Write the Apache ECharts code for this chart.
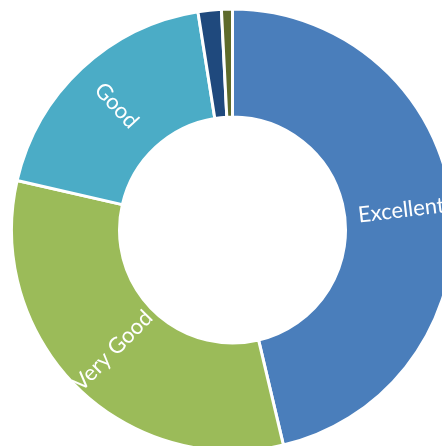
<!DOCTYPE html>
<html>
<head>
<meta charset="utf-8">
<script src="https://cdn.jsdelivr.net/npm/echarts@6/dist/echarts.min.js"></script>
<style>html,body{margin:0;padding:0;background:#fff;}#c{width:442px;height:446px;}</style>
</head>
<body>
<div id="c"></div>
<script>
const categories = ['Excellent', 'Very Good', 'Good', 'Fair', 'Poor'];
const values = [46.3, 32.3, 18.9, 1.7, 0.8];
const colors = ['#4A7EBB', '#9BBB59', '#4BACC6', '#1F497D', '#5E6B2B'];
const showLabel = [true, true, true, false, false];

const chart = echarts.init(document.getElementById('c'), null, {renderer: 'canvas'});
chart.setOption({
  animation: false,
  series: [{
    type: 'pie',
    center: [232.5, 230],
    radius: [113, 221],
    startAngle: 90,
    clockwise: true,
    avoidLabelOverlap: false,
    itemStyle: {borderColor: '#ffffff', borderWidth: 3},
    label: {
      show: true,
      position: 'inside',
      rotate: 'radial',
      color: '#ffffff',
      fontFamily: 'Lato',
      fontSize: 22,
      formatter: '{b}'
    },
    labelLine: {show: false},
    data: categories.map((c, i) => ({
      name: c,
      value: values[i],
      itemStyle: {color: colors[i]},
      label: {show: showLabel[i]}
    }))
  }]
});
</script>
</body>
</html>
